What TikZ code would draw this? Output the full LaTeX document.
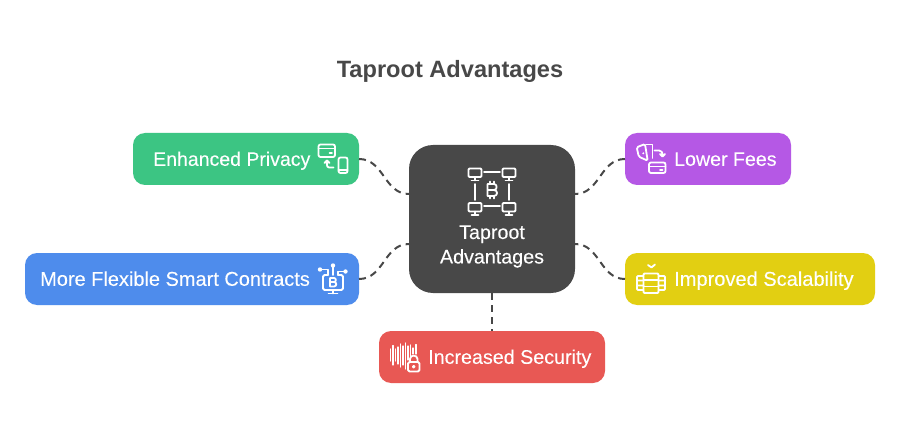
\documentclass[tikz,border=0pt]{standalone}
\usepackage{fontspec}
\setmainfont{Liberation Sans}
\newfontfamily\labfont[FakeBold=0.12]{Liberation Sans}
\definecolor{ink}{HTML}{484848}
\definecolor{cgreen}{HTML}{3CC583}
\definecolor{cpurple}{HTML}{B558E5}
\definecolor{cblue}{HTML}{4E8CEC}
\definecolor{cyellow}{HTML}{E2CF12}
\definecolor{cred}{HTML}{E85854}
\tikzset{
  box/.style={rounded corners=12pt,inner sep=0pt,outer sep=0pt,minimum height=52pt},
  hub/.style={rounded corners=24pt,inner sep=0pt,outer sep=0pt,fill=ink,minimum width=166pt,minimum height=148pt},
  lab/.style={text=white,inner sep=0pt,anchor=base west},
  link/.style={draw=ink,line width=2pt,dash pattern=on 7pt off 5.1pt},
  ico/.style={draw=white,line width=1.8pt,line cap=round,line join=round,fill=none},
}
\begin{document}
\begin{tikzpicture}[x=1pt,y=-1pt]
\useasboundingbox (0,0) rectangle (900,433);
\fill[white] (0,0) rectangle (900,433);
\node[text=ink,inner sep=0pt,font=\bfseries\fontsize{23.6}{28}\selectfont] (title) at (450,71) {Taproot Advantages};
% boxes
\node[box,fill=cgreen,minimum width=226pt] (priv) at (246,159) {};
\node[box,fill=cpurple,minimum width=166pt] (fees) at (708,159) {};
\node[box,fill=cblue,minimum width=334pt] (smart) at (192,279) {};
\node[box,fill=cyellow,minimum width=250pt] (scale) at (750,279) {};
\node[box,fill=cred,minimum width=226pt] (sec) at (492,357) {};
\node[hub] (hub) at (492,219) {};
% hub ports
\coordinate (hl1) at (409,194);
\coordinate (hl2) at (409,244);
\coordinate (hr1) at (575,194);
\coordinate (hr2) at (575,244);
% connectors
\draw[link] (priv.east) .. controls (384,159) and (384,194) .. (hl1);
\draw[link] (smart.east) .. controls (384,279) and (384,244) .. (hl2);
\draw[link] (fees.west) .. controls (600,159) and (600,194) .. (hr1);
\draw[link] (scale.west) .. controls (600,279) and (600,244) .. (hr2);
\draw[link] (hub.south) -- (sec.north);
% labels
\node[lab,font=\labfont\fontsize{19.5}{24}\selectfont] (t1) at (153,165.8) {Enhanced Privacy};
\node[lab,font=\labfont\fontsize{19.6}{24}\selectfont] (t2) at (674,165.8) {Lower Fees};
\node[lab,font=\labfont\fontsize{19.97}{24}\selectfont] (t3) at (40,285.8) {More Flexible Smart Contracts};
\node[lab,font=\labfont\fontsize{20.05}{24}\selectfont] (t4) at (674,285.8) {Improved Scalability};
\node[lab,font=\labfont\fontsize{19.7}{24}\selectfont] (t5) at (428,363.8) {Increased Security};
\node[text=white,inner sep=0pt,align=center,font=\labfont\fontsize{19.7}{24.5}\selectfont] (t6) at (492,246.5) {Taproot\\Advantages};
% hub icon
\foreach \x/\y in {468.5/168.5,502.5/168.5,468.5/203,502.5/203}{
  \draw[ico,rounded corners=1pt] (\x,\y) rectangle ++(13,8.5);
  \draw[ico] (\x+6.5,\y+8.5) -- ++(0,3.5) (\x+3,\y+12) -- ++(7,0);
}
\draw[ico] (484,172) -- (500,172) (484,206) -- (500,206) (475,184) -- (475,200) (509,184) -- (509,200);
\draw[ico] (487.5,184) -- (494,184) .. controls (497.5,184) and (497.5,190) .. (494,190) .. controls (498,190) and (498,196) .. (494,196) -- (487.5,196) -- cycle (487.5,190) -- (494,190);
\draw[ico] (490,181.5) -- (490,184) (494,181.5) -- (494,184) (490,196) -- (490,198.5) (494,196) -- (494,198.5);
% privacy icon
\draw[ico,rounded corners=2pt] (318.5,144.5) rectangle (335,157);
\draw[ico] (318.5,148.5) -- (335,148.5) (329.5,153) -- (332,153);
\draw[ico,rounded corners=2pt] (338.5,157.5) rectangle (347.5,173);
\draw[ico] (338.5,170) -- (347.5,170);
\draw[ico] (333.5,167.5) -- (329,167.5) .. controls (327.5,167.5) and (327,166) .. (327,165) -- (327,160.5) (324.5,163) -- (327,160.5) -- (329.5,163);
% fees icon
\draw[ico,rounded corners=1.5pt] (636.7,147.3) -- (645,144) -- (647.7,160.7) -- (638.8,156.7) -- cycle;
\draw[ico] (646,144.5) -- (652.5,144.5) -- (652.5,158);
\fill[white] (643.3,153.3) circle (1.1pt);
\draw[ico] (654.5,150.5) -- (659,150.5) .. controls (661.5,150.5) and (662.5,152) .. (662.5,156) (660,154) -- (662.5,156.5) -- (665,154);
\draw[ico,rounded corners=2pt] (649,162.5) rectangle (665.5,173);
\draw[ico] (649,166.5) -- (665.5,166.5) (660,170) -- (662.5,170);
% smart contracts icon
\draw[ico,rounded corners=1.5pt] (328,275) -- (323,275) -- (323,290) -- (343,290) -- (343,275) -- (338,275);
\draw[ico] (333,290) -- (333,293.5) (328.5,293.5) -- (337.5,293.5);
\draw[ico] (330,278) -- (334,278) .. controls (336.5,278) and (336.5,282) .. (334,282) .. controls (337,282) and (337,286.5) .. (334,286.5) -- (330,286.5) -- cycle (330,282) -- (334,282);
\fill[white] (320,269.5) circle (2.2pt) (333,265.5) circle (2.2pt) (345.5,271.5) circle (2.2pt);
\draw[ico] (320,269.5) -- (328,269.5) -- (328,275) (333,265.5) -- (333,275) (345.5,271.5) -- (338,271.5) -- (338,275);
% scalability icon
\draw[ico] (648,265) -- (651.5,267.5) -- (655,264.5);
\draw[ico,rounded corners=1pt] (643.5,273.5) rectangle (658.5,293);
\draw[ico] (643.5,280) -- (658.5,280) (643.5,286.5) -- (658.5,286.5);
\draw[ico,rounded corners=1pt] (643.5,276) -- (637,276) -- (637,290) -- (643.5,290) (637,280.5) -- (643.5,280.5) (637,285.5) -- (643.5,285.5);
\draw[ico,rounded corners=1pt] (658.5,276) -- (665,276) -- (665,290) -- (658.5,290) (665,280.5) -- (658.5,280.5) (665,285.5) -- (658.5,285.5);
% security icon
\draw[ico,line width=1.3pt]
 (390.5,349) -- (390.5,361)
 (393,345.5) -- (393,365)
 (395.5,349) -- (395.5,361)
 (398,347) -- (398,364)
 (400.5,344) -- (400.5,367)
 (403,346) -- (403,365)
 (405.5,343) -- (405.5,369)
 (408,346) -- (408,360)
 (410.5,345) -- (410.5,356)
 (413,348) -- (413,354)
 (416,344.5) -- (416,354);
\draw[ico,rounded corners=1.5pt] (408,362) rectangle (419.5,371.5);
\draw[ico] (410,362) -- (410,359) .. controls (410,354.5) and (417.5,354.5) .. (417.5,359) -- (417.5,362);
\draw[ico,line width=1.2pt] (413.7,366.7) circle (1.2pt);
\end{tikzpicture}
\end{document}
